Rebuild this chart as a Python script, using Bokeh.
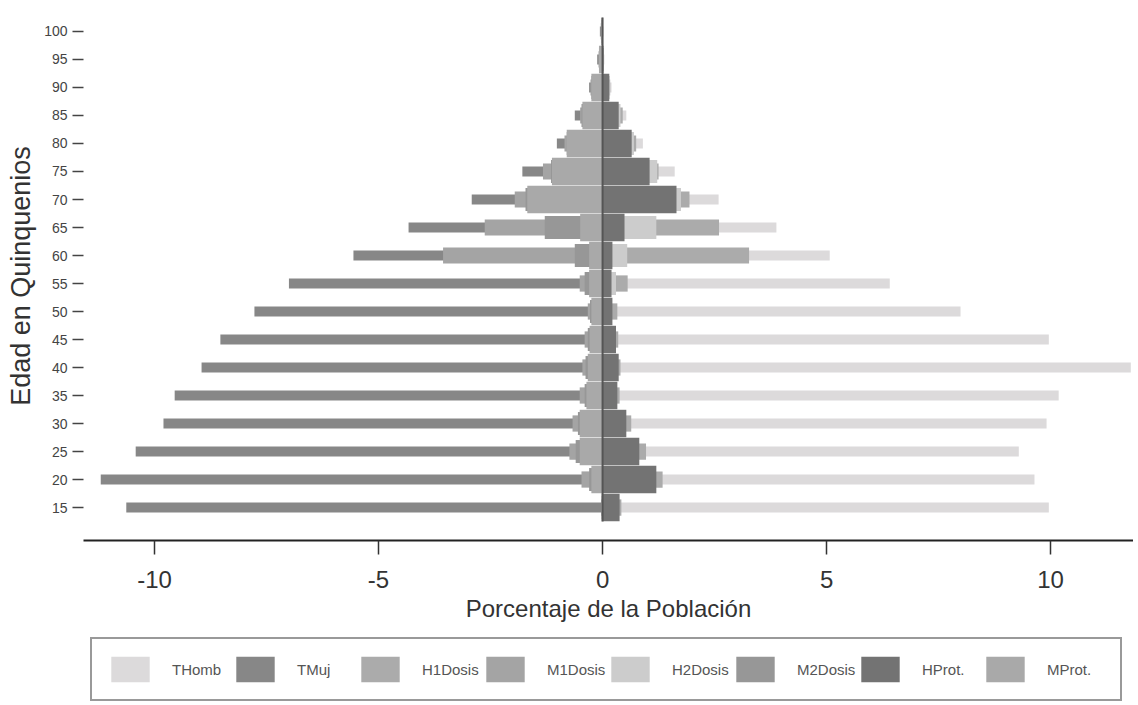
from bokeh.plotting import figure
from bokeh.layouts import column
from bokeh.models import Range1d, FixedTicker, Legend, LegendItem, ColumnDataSource
from bokeh.embed import file_html
from bokeh.resources import INLINE

ages = [15, 20, 25, 30, 35, 40, 45, 50, 55, 60, 65, 70, 75, 80, 85, 90, 95, 100]

# Men (right side, positive)
thomb = [9.96, 9.64, 9.29, 9.91, 10.18, 11.79, 9.96, 7.99, 6.41, 5.07, 3.88, 2.59, 1.61, 0.9, 0.53, 0.2, 0.04, 0.02]
h1dosis = [0.42, 1.34, 0.97, 0.64, 0.38, 0.40, 0.35, 0.33, 0.56, 3.27, 2.6, 1.94, 1.25, 0.75, 0.45, 0.17, 0.03, 0.01]
h2dosis = [0.30, 1.0, 0.7, 0.45, 0.25, 0.30, 0.25, 0.20, 0.30, 0.55, 1.2, 1.75, 1.22, 0.7, 0.4, 0.16, 0.03, 0.01]
hprot = [0.38, 1.2, 0.82, 0.53, 0.33, 0.36, 0.30, 0.22, 0.2, 0.22, 0.49, 1.65, 1.05, 0.65, 0.36, 0.15, 0.02, 0.01]

# Women (left side, magnitudes)
tmuj = [10.63, 11.2, 10.42, 9.8, 9.55, 8.95, 8.53, 7.77, 7.0, 5.56, 4.33, 2.92, 1.79, 1.02, 0.62, 0.3, 0.12, 0.06]
m1dosis = [0.03, 0.47, 0.74, 0.67, 0.51, 0.45, 0.40, 0.33, 0.51, 3.56, 2.63, 1.96, 1.33, 0.85, 0.5, 0.27, 0.09, 0.04]
m2dosis = [0.02, 0.30, 0.60, 0.55, 0.40, 0.38, 0.33, 0.28, 0.40, 0.62, 1.29, 1.72, 1.15, 0.8, 0.47, 0.25, 0.08, 0.03]
mprot = [0.02, 0.25, 0.51, 0.51, 0.36, 0.33, 0.29, 0.25, 0.30, 0.30, 0.5, 1.68, 1.13, 0.8, 0.45, 0.25, 0.08, 0.03]

series_names = ["THomb", "TMuj", "H1Dosis", "M1Dosis", "H2Dosis", "M2Dosis", "HProt.", "MProt."]

x_ticks = [-10, -5, 0, 5, 10]
x_tick_labels = ["-10", "-5", "0", "5", "10"]

font = "Liberation Sans"

p = figure(frame_width=1050, frame_height=529, output_backend="svg", toolbar_location=None,
           x_range=Range1d(-11.585, 11.85), y_range=Range1d(9.11, 103.57),
           min_border_left=83, min_border_right=0, min_border_top=11, min_border_bottom=0)
p.background_fill_color = "white"
p.border_fill_color = "white"
p.outline_line_color = None
p.grid.visible = False

# Legend-only companion figure
p2 = figure(width=1138, height=85, output_backend="svg", toolbar_location=None,
            x_axis_type=None, y_axis_type=None,
            x_range=Range1d(-11.585, 11.85), y_range=Range1d(9.11, 103.57),
            min_border_left=0, min_border_right=0, min_border_top=0, min_border_bottom=0)
p2.outline_line_color = None
p2.grid.visible = False

H_T, H_1, H_2, H_P = 1.8, 2.9, 4.1, 4.9

legend_renderers = []

def bars(vals, sign, height, color):
    src = ColumnDataSource(dict(y=ages, right=[sign * v for v in vals]))
    r = p.hbar(y="y", left=0, right="right", height=height, source=src,
               fill_color=color, line_color=None)
    r2 = p2.hbar(y="y", left=0, right="right", height=height, source=src,
                 fill_color=color, line_color=None, visible=False)
    legend_renderers.append(r2)
    return r

bars(thomb, 1, H_T, "#dcdadb")
bars(tmuj, -1, H_T, "#878787")
bars(h1dosis, 1, H_1, "#ababab")
bars(m1dosis, -1, H_1, "#a4a4a4")
bars(h2dosis, 1, H_2, "#cccccc")
bars(m2dosis, -1, H_2, "#979797")
bars(hprot, 1, H_P, "#737373")
bars(mprot, -1, H_P, "#a9a9a9")

p.segment(x0=0, y0=ages[0] - 2.5, x1=0, y1=ages[-1] + 2.5, line_color="#555555", line_width=2)

# X axis
xa = p.xaxis[0]
xa.ticker = FixedTicker(ticks=x_ticks)
xa.major_label_overrides = {t: s for t, s in zip(x_ticks, x_tick_labels)}
xa.axis_label = "Porcentaje de la Población"
xa.axis_label_text_font = font
xa.axis_label_text_font_size = "24px"
xa.axis_label_text_font_style = "normal"
xa.axis_label_text_color = "#333333"
xa.axis_label_standoff = 4
xa.major_label_text_font = font
xa.major_label_text_font_size = "24px"
xa.major_label_text_color = "#333333"
xa.major_label_standoff = 16
xa.axis_line_color = "#222222"
xa.axis_line_width = 2
xa.major_tick_line_color = "#333333"
xa.major_tick_line_width = 1.5
xa.major_tick_out = 14
xa.major_tick_in = 0
xa.minor_tick_line_color = None

# Y axis
ya = p.yaxis[0]
ya.ticker = FixedTicker(ticks=ages)
ya.axis_label = "Edad en Quinquenios"
ya.axis_label_text_font = font
ya.axis_label_text_font_size = "27px"
ya.axis_label_text_font_style = "normal"
ya.axis_label_text_color = "#333333"
ya.axis_label_standoff = 5
ya.major_label_text_font = font
ya.major_label_text_font_size = "14px"
ya.major_label_text_color = "#444444"
ya.major_label_standoff = 5
ya.axis_line_color = None
ya.major_tick_line_color = "#444444"
ya.major_tick_line_width = 1.5
ya.major_tick_out = 11
ya.major_tick_in = 0
ya.minor_tick_line_color = None

legend = Legend(items=[LegendItem(label=n, renderers=[r]) for n, r in zip(series_names, legend_renderers)],
                orientation="horizontal", location=(7, 8))
legend.glyph_width = 48
legend.glyph_height = 32
legend.label_standoff = 18
legend.label_width = 59
legend.spacing = 0
legend.padding = 14
legend.margin = 0
legend.label_text_font = font
legend.label_text_font_size = "15px"
legend.label_text_color = "#555555"
legend.border_line_color = "#333333"
legend.border_line_width = 2
legend.background_fill_color = "white"
legend.background_fill_alpha = 1
legend.inactive_fill_alpha = 0
p2.add_layout(legend)

layout = column(p, p2, spacing=0)
open("out.html", "w").write(file_html(layout, INLINE))
